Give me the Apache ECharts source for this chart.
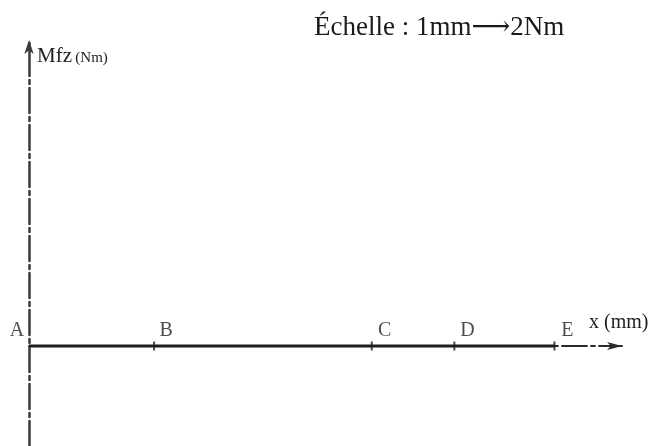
<!DOCTYPE html>
<html>
<head>
<meta charset="utf-8">
<script src="https://cdn.jsdelivr.net/npm/echarts@6/dist/echarts.min.js"></script>
<style>
  html, body { margin: 0; padding: 0; background: #fff; }
  #chart { width: 660px; height: 446px; }
</style>
</head>
<body>
<div id="chart"></div>
<script>
// Beam points along the x axis (mm)
const pointNames = ['A', 'B', 'C', 'D', 'E'];
const pointX = [0, 50, 137, 170, 210];
// Bending moment values at the points (diagram left blank: all zero)
const momentValues = [0, 0, 0, 0, 0];
// Axis extents
const xRange = [0, 237];
const yRange = [-50, 153];

const titleText = 'Échelle : 1mm⟶2Nm';
const serif = '"Liberation Serif", "DejaVu Serif", serif';
const dashDot = [25, 4, 4, 4];

// label offsets for each point label, relative to the point
const labelOffsets = [[-12, -15], [12, -15], [13, -15], [13, -15], [13, -15]];

const chart = echarts.init(document.getElementById('chart'), null, { renderer: 'canvas' });

const pointData = pointNames.map((n, i) => ({
  name: n,
  value: [pointX[i], momentValues[i]],
  symbolSize: i === 0 ? 0 : [2, 9],
  label: { offset: labelOffsets[i] }
}));

chart.setOption({
  animation: false,
  backgroundColor: '#ffffff',
  title: {
    text: titleText,
    left: 309,
    top: 9,
    textStyle: { fontFamily: serif, fontSize: 27, fontWeight: 'normal', color: '#1a1a1a' }
  },
  grid: { left: 29, right: 38, top: 40, bottom: 0 },
  xAxis: {
    type: 'value',
    min: xRange[0],
    max: xRange[1],
    name: 'x (mm)',
    nameLocation: 'end',
    nameGap: -33,
    nameTextStyle: {
      fontFamily: serif, fontSize: 20, color: '#1e1e1e',
      align: 'left', verticalAlign: 'bottom', padding: [0, 0, 13, 0]
    },
    axisLine: {
      show: true,
      symbol: ['none', 'arrow'],
      symbolSize: [6, 15],
      lineStyle: { color: '#2a2a2a', width: 1.8, type: dashDot, dashOffset: 22 }
    },
    axisTick: { show: false },
    axisLabel: { show: false },
    splitLine: { show: false }
  },
  yAxis: {
    type: 'value',
    min: yRange[0],
    max: yRange[1],
    name: '{a|Mfz} {b|(Nm)}',
    nameLocation: 'end',
    nameGap: -15,
    nameTextStyle: {
      align: 'left', verticalAlign: 'middle', padding: [0, 0, 0, 8],
      rich: {
        a: { fontFamily: serif, fontSize: 21, color: '#1e1e1e', lineHeight: 24, verticalAlign: 'bottom' },
        b: { fontFamily: serif, fontSize: 15, color: '#1e1e1e', lineHeight: 24, verticalAlign: 'bottom', padding: [0, 0, 1, 0] }
      }
    },
    axisLine: {
      show: true,
      symbol: ['none', 'arrow'],
      symbolSize: [7, 14],
      lineStyle: { color: '#3a3a3a', width: 2.5, type: dashDot }
    },
    axisTick: { show: false },
    axisLabel: { show: false },
    splitLine: { show: false }
  },
  series: [
    {
      // the beam from A to E
      type: 'line',
      data: [[pointX[0], momentValues[0]], [pointX[pointX.length - 1], momentValues[momentValues.length - 1]]],
      symbol: 'none',
      lineStyle: { color: '#1e1e1e', width: 3 },
      z: 3
    },
    {
      // points A..E with their tick marks
      type: 'scatter',
      data: pointData,
      symbol: 'rect',
      itemStyle: { color: '#1e1e1e' },
      label: {
        show: true,
        position: 'inside',
        formatter: p => p.name,
        fontFamily: serif,
        fontSize: 20,
        color: '#1e1e1e'
      },
      z: 4
    }
  ]
});
</script>
</body>
</html>
